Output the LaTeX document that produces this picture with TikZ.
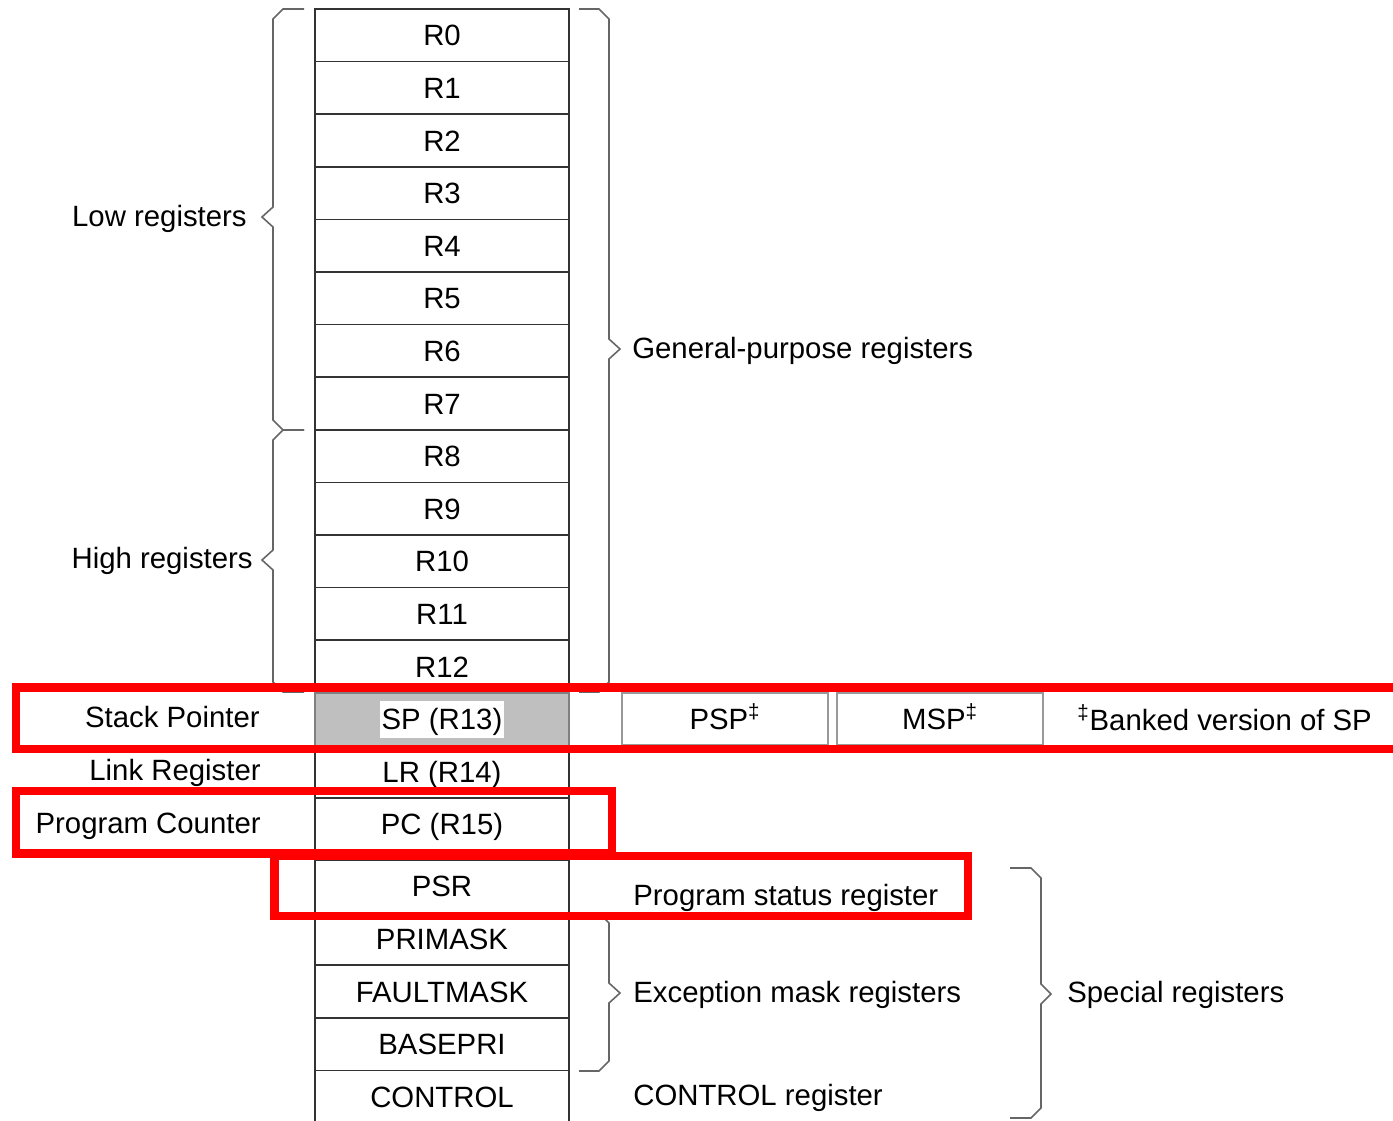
\documentclass[tikz,border=0pt]{standalone}
\usepackage{fontspec}
\setmainfont{Liberation Sans}
% angular brace: #1 open-end x, #2 spine x, #3 tip x, #4 top y, #5 tip y, #6 bottom y, #7 side (+1 right, -1 left)
\newcommand\angbrace[7]{%
  \draw[brace] (#1,#4) -- ({#2-#7*10},#4) -- (#2,{#4+10}) -- (#2,{#5-10}) -- (#3,#5)
    -- (#2,{#5+10}) -- (#2,{#6-10}) -- ({#2-#7*10},#6) -- (#1,#6);}
\begin{document}
\begin{tikzpicture}[x=0.02cm,y=-0.02cm,
  every node/.style={font=\fontsize{16.7pt}{20pt}\selectfont, inner sep=0pt,
    text height=12pt, text depth=0pt},
  reg/.style={draw=black!80, line width=0.9pt, minimum width=5.08cm, minimum height=1.052cm},
  bank/.style={draw=black!40, line width=0.9pt, minimum width=4.12cm, minimum height=1.04cm},
  brace/.style={draw=black!60, line width=0.9pt},
  hilite/.style={draw=red, line width=5.1pt}]
\useasboundingbox (0,0) rectangle (1393,1120);
\fill[white] (0,0) rectangle (1393,1120);

% general-purpose registers
\foreach \i in {0,...,12} {
  \node[reg] (r\i) at (442,{9+52.6*(\i+0.5)}) {R\i};
}
% stack pointer, link register, program counter
\node[reg, fill=black!25, draw=black!50] (sp) at (442,719.1) {};
\node[fill=white, minimum width=2.5cm, minimum height=0.74cm] (sptext) at (sp) {SP (R13)};
\node[reg] (lr) at (442,771.7) {LR (R14)};
\node[reg] (pc) at (442,824.3) {PC (R15)};

% special registers
\node[reg] (psr) at (442,886.3) {PSR};
\node[reg] (primask) at (442,938.9) {PRIMASK};
\node[reg] (faultmask) at (442,991.5) {FAULTMASK};
\node[reg] (basepri) at (442,1044.1) {BASEPRI};
\node[reg] (control) at (442,1096.7) {CONTROL};

% banked stack pointers
\node[bank] (psp) at (725,719) {PSP\textsuperscript{‡}};
\node[bank] (msp) at (940,719) {MSP\textsuperscript{‡}};
\node[anchor=west] (banked) at (1077,720) {\textsuperscript{‡}Banked version of SP};

% braces
\angbrace{304}{273}{262}{9}{217}{430}{-1}
\angbrace{304}{273}{262}{430}{560}{692}{-1}
\angbrace{579}{609}{620}{9}{349}{692}{1}
\angbrace{579}{609}{620}{913}{993}{1071}{1}
\angbrace{1010}{1041}{1051}{868}{994}{1118}{1}

% group labels
\node[anchor=east] (lowlbl) at (247,216) {Low registers};
\node[anchor=east] (highlbl) at (253,558) {High registers};
\node[anchor=west] (gplbl) at (632,348) {General-purpose registers};
\node[anchor=east] (splbl) at (260,717) {Stack Pointer};
\node[anchor=east] (lrlbl) at (261,770) {Link Register};
\node[anchor=east] (pclbl) at (261,823) {Program Counter};
\node[anchor=west] (psrlbl) at (633,895) {Program status register};
\node[anchor=west] (exclbl) at (633,992) {Exception mask registers};
\node[anchor=west] (speclbl) at (1067,992) {Special registers};
\node[anchor=west] (ctrllbl) at (633,1095) {CONTROL register};

% highlight frames
\draw[hilite] (16,687.5) rectangle (1410,749);
\draw[hilite] (16,791) rectangle (612,853.5);
\draw[hilite] (274.5,856) rectangle (968,916);
\end{tikzpicture}
\end{document}
